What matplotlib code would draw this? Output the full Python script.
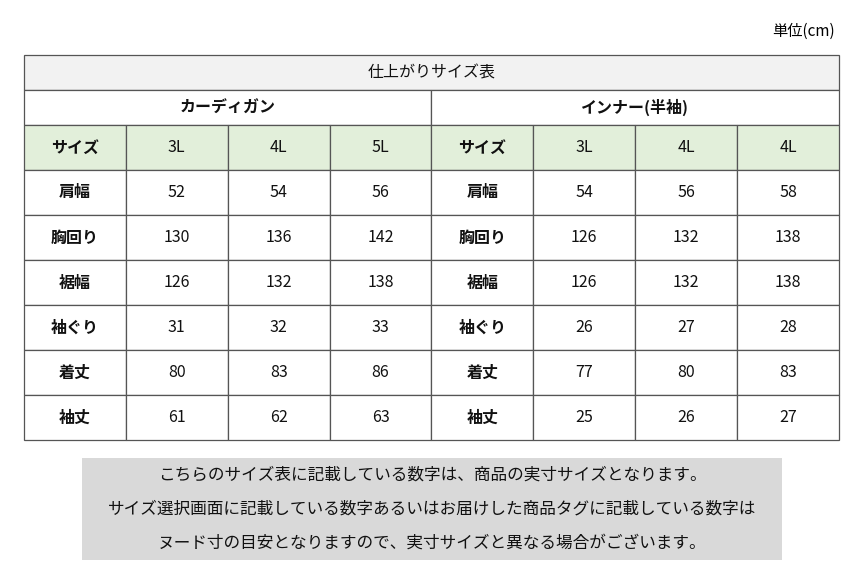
import matplotlib.pyplot as plt
from matplotlib.patches import Rectangle

plt.rcParams['font.family'] = 'Noto Sans CJK JP'

title = '仕上がりサイズ表'
groups = ['カーディガン', 'インナー(半袖)']
items = ['肩幅', '胸回り', '裾幅', '袖ぐり', '着丈', '袖丈']
cardigan_sizes = ['3L', '4L', '5L']
inner_sizes = ['3L', '4L', '4L']
cardigan = [[52, 54, 56], [130, 136, 142], [126, 132, 138],
            [31, 32, 33], [80, 83, 86], [61, 62, 63]]
inner = [[54, 56, 58], [126, 132, 138], [126, 132, 138],
         [26, 27, 28], [77, 80, 83], [25, 26, 27]]
note = ['こちらのサイズ表に記載している数字は、商品の実寸サイズとなります。',
        'サイズ選択画面に記載している数字あるいはお届けした商品タグに記載している数字は',
        'ヌード寸の目安となりますので、実寸サイズと異なる場合がございます。']

fig = plt.figure(figsize=(8.62, 5.71), dpi=100)
ax = fig.add_axes([0, 0, 1, 1])
ax.set_xlim(0, 862)
ax.set_ylim(571, 0)
ax.axis('off')

x0, x1 = 24, 839
cw = (x1 - x0) / 8
line = '#555555'


def cell(x, y, w, h, text, bold=False, bg='white', size=11.5):
    ax.add_patch(Rectangle((x, y), w, h, facecolor=bg, edgecolor=line, lw=0.9))
    ax.text(x + w / 2, y + h / 2, text, ha='center', va='center', fontsize=size,
            fontweight='bold' if bold else 'normal', color='#111111')


ax.text(835, 31, '単位(cm)', ha='right', va='center', fontsize=11)
cell(x0, 55, x1 - x0, 35, title, bg='#f2f2f2')
for g, name in enumerate(groups):
    cell(x0 + g * 4 * cw, 90, 4 * cw, 35, name, bold=True)

green = '#e2efda'
for g, (sizes, vals) in enumerate([(cardigan_sizes, cardigan), (inner_sizes, inner)]):
    gx = x0 + g * 4 * cw
    cell(gx, 125, cw, 45, 'サイズ', bold=True, bg=green)
    for j, s in enumerate(sizes):
        cell(gx + (j + 1) * cw, 125, cw, 45, s, bg=green)
    for i, it in enumerate(items):
        y = 170 + i * 45
        cell(gx, y, cw, 45, it, bold=True)
        for j, v in enumerate(vals[i]):
            cell(gx + (j + 1) * cw, y, cw, 45, str(v))

ax.add_patch(Rectangle((82, 458), 700, 102, facecolor='#d9d9d9', edgecolor='none'))
for k, t in enumerate(note):
    ax.text(432, 475 + k * 34, t, ha='center', va='center', fontsize=12, color='#111111')

fig.savefig('out.png', dpi=100)
